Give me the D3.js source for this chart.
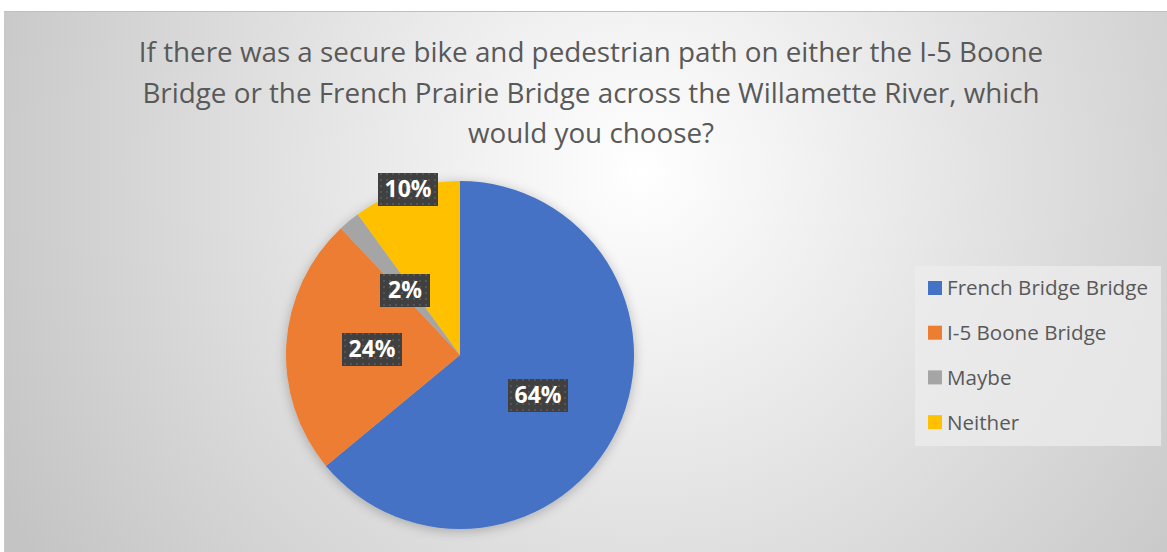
<!DOCTYPE html>
<html lang="en">
<head>
    <meta charset="UTF-8">
    <title>Bridge choice pie</title>
    <script src="https://cdnjs.cloudflare.com/ajax/libs/d3/7.8.5/d3.min.js"></script>
    <style>
        html, body { margin: 0; padding: 0; background: #fff; }
        svg { display: block; font-family: "Open Sans", "Noto Sans", sans-serif; }
    </style>
</head>
<body>
<svg width="1167" height="552"></svg>
<script>
    // data
    var categories = ["French Bridge Bridge", "I-5 Boone Bridge", "Maybe", "Neither"];
    var shares = [64, 24, 2, 10];
    var labels = ["64%", "24%", "2%", "10%"];
    var colors = ["#4472c4", "#ed7d31", "#a5a5a5", "#ffc000"];
    var titleLines = [
        "If there was a secure bike and pedestrian path on either the I-5 Boone",
        "Bridge or the French Prairie Bridge across the Willamette River, which",
        "would you choose?"
    ];
    // label box centres, as placed in the original
    var labelPos = [[538, 395], [372, 349], [405, 290], [408, 189]];

    var svg = d3.select("svg");
    var defs = svg.append("defs");

    var grad = defs.append("radialGradient")
            .attr("id", "bg")
            .attr("gradientUnits", "userSpaceOnUse")
            .attr("cx", 640).attr("cy", 170).attr("r", 720);
    grad.append("stop").attr("offset", "0%").attr("stop-color", "#ffffff");
    grad.append("stop").attr("offset", "100%").attr("stop-color", "#c4c4c4");

    var pat = defs.append("pattern")
            .attr("id", "dots")
            .attr("patternUnits", "userSpaceOnUse")
            .attr("width", 6).attr("height", 6);
    pat.append("rect").attr("width", 6).attr("height", 6).attr("fill", "#404040");
    pat.append("rect").attr("x", 2).attr("y", 2).attr("width", 2).attr("height", 2).attr("fill", "#555555");

    var shadow = defs.append("filter").attr("id", "shadow")
            .attr("x", "-20%").attr("y", "-20%").attr("width", "140%").attr("height", "140%");
    shadow.append("feGaussianBlur").attr("in", "SourceAlpha").attr("stdDeviation", 6);
    shadow.append("feOffset").attr("dx", 0).attr("dy", 2).attr("result", "b");
    shadow.append("feComponentTransfer").append("feFuncA").attr("type", "linear").attr("slope", 0.25);
    var merge = shadow.append("feMerge");
    merge.append("feMergeNode");
    merge.append("feMergeNode").attr("in", "SourceGraphic");

    // chart area
    svg.append("rect")
            .attr("x", 4).attr("y", 11)
            .attr("width", 1163).attr("height", 541)
            .attr("fill", "url(#bg)");
    svg.append("line")
            .attr("x1", 4).attr("x2", 1167).attr("y1", 11.5).attr("y2", 11.5)
            .attr("stroke", "#bfbfbf");
    svg.append("line")
            .attr("x1", 4.5).attr("x2", 4.5).attr("y1", 11).attr("y2", 552)
            .attr("stroke", "#c8c8c8");

    // title
    svg.append("text")
            .attr("text-anchor", "middle")
            .attr("fill", "#595959")
            .style("font-size", "27.8px")
            .selectAll("tspan")
            .data(titleLines)
            .enter().append("tspan")
            .attr("x", 591)
            .attr("y", function (d, i) { return 62 + i * 40.5; })
            .text(function (d) { return d; });

    // pie
    var cx = 460, cy = 355, radius = 174;
    var pie = d3.pie().sort(null).value(function (d) { return d; });
    var arc = d3.arc().innerRadius(0).outerRadius(radius);

    var g = svg.append("g")
            .attr("transform", "translate(" + cx + "," + cy + ")")
            .attr("filter", "url(#shadow)");
    g.selectAll("path")
            .data(pie(shares))
            .enter().append("path")
            .attr("d", arc)
            .attr("fill", function (d, i) { return colors[i]; });

    // data labels
    var lab = svg.selectAll(".lab")
            .data(labels)
            .enter().append("g")
            .attr("class", "lab")
            .attr("transform", function (d, i) {
                return "translate(" + labelPos[i][0] + "," + labelPos[i][1] + ")";
            });
    lab.append("rect")
            .attr("x", function (d) { return d.length > 2 ? -30 : -25; })
            .attr("y", -16)
            .attr("width", function (d) { return d.length > 2 ? 60 : 50; })
            .attr("height", 33)
            .attr("fill", "url(#dots)");
    lab.append("text")
            .attr("text-anchor", "middle")
            .attr("dy", "0.36em")
            .attr("fill", "#ffffff")
            .style("font-size", "23px")
            .style("font-weight", "bold")
            .text(function (d) { return d; });

    // legend
    svg.append("rect")
            .attr("x", 915).attr("y", 266)
            .attr("width", 246).attr("height", 180)
            .attr("fill", "#ececec").attr("fill-opacity", 0.75);
    var leg = svg.selectAll(".leg")
            .data(categories)
            .enter().append("g")
            .attr("class", "leg")
            .attr("transform", function (d, i) {
                return "translate(928," + (288 + i * 44.7) + ")";
            });
    leg.append("rect")
            .attr("x", 0).attr("y", -7)
            .attr("width", 14).attr("height", 14)
            .attr("fill", function (d, i) { return colors[i]; });
    leg.append("text")
            .attr("x", 19)
            .attr("dy", "0.36em")
            .attr("fill", "#595959")
            .style("font-size", "20.6px")
            .text(function (d) { return d; });
</script>
</body>
</html>
